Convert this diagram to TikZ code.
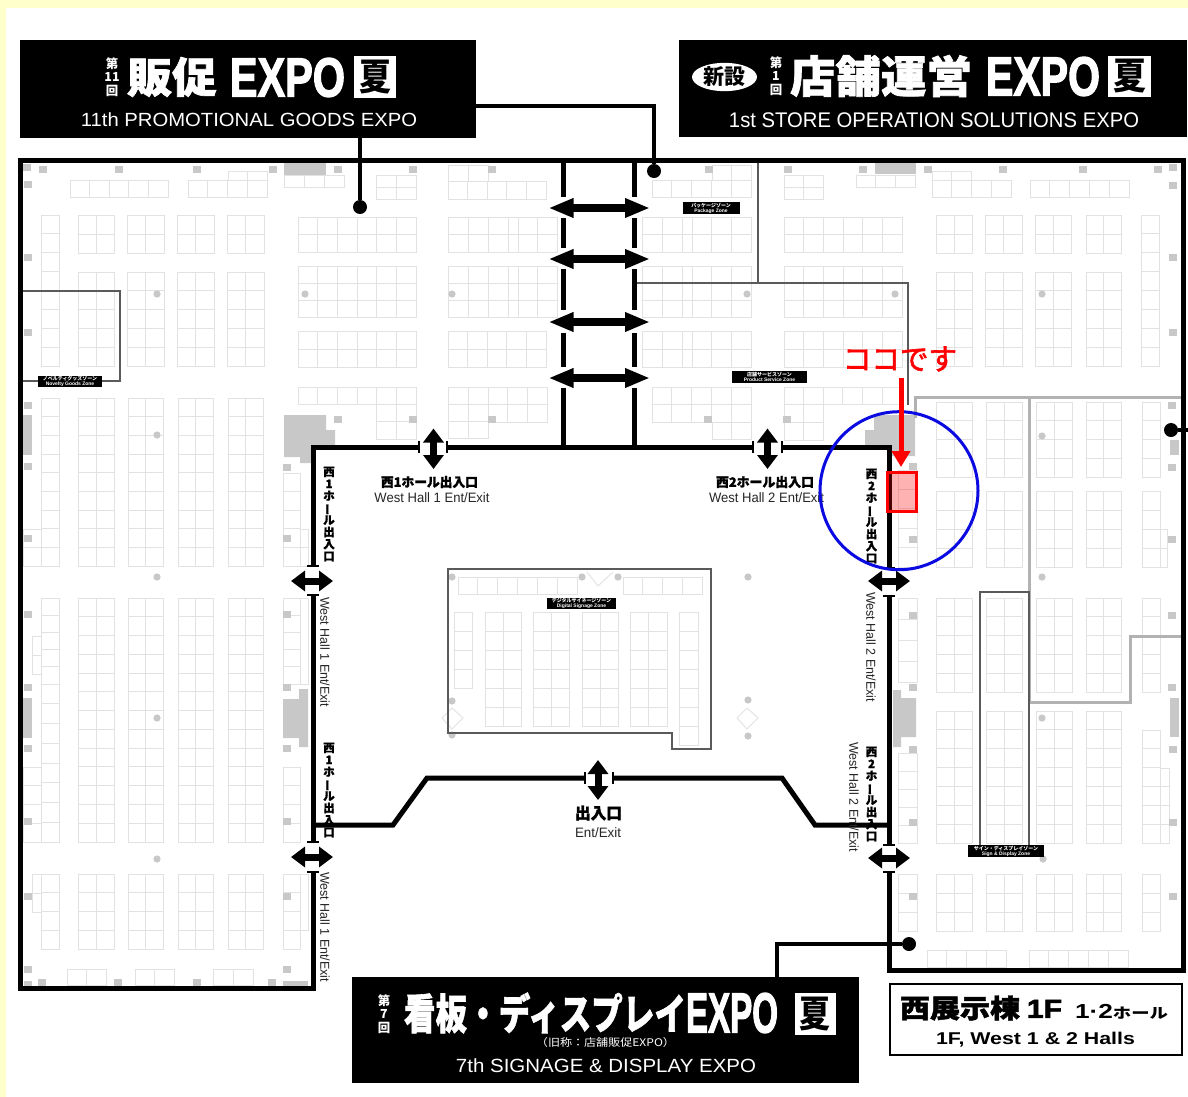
\documentclass[tikz,border=0pt]{standalone}
\usepackage{graphicx}
\usepackage{fontspec}
\setmainfont{Liberation Sans}
\newfontfamily\cjk{Noto Sans CJK JP}
\newfontfamily\cjkm[FakeBold=2]{Noto Sans CJK JP}
\newfontfamily\cjkh[BoldFeatures={FakeBold=1.5}]{Noto Sans CJK JP}
\newfontfamily\lsb[BoldFeatures={FakeBold=2.5}]{Liberation Sans}
\usetikzlibrary{arrows.meta,shapes.geometric,calc}
\definecolor{paleyellow}{RGB}{255,255,204}
\definecolor{boothline}{RGB}{226,226,226}
\definecolor{pillar}{RGB}{200,200,200}
\definecolor{zoneline}{RGB}{90,90,90}
\definecolor{partline}{RGB}{178,178,178}
\definecolor{bluering}{RGB}{10,10,225}
\tikzset{
 booth/.style={draw=boothline,line width=0.9bp},
 wall/.style={draw=black,line width=5bp,line cap=butt,line join=miter},
 leader/.style={draw=black,line width=4bp},
 zonewall/.style={draw=zoneline,line width=2bp},
 partwall/.style={draw=partline,line width=3bp},
 ticker/.style={draw=black,line width=2bp},
 bigarrow/.style={draw=black,line width=7.5bp,{Triangle[length=25bp,width=18bp]}-{Triangle[length=25bp,width=18bp]}},
 gatearrow/.style={draw=black,line width=7bp,{Triangle[length=14bp,width=20bp]}-{Triangle[length=14bp,width=20bp]}},
 txt/.style={inner sep=0,outer sep=0},
 dot/.style={circle,fill=black,inner sep=0,minimum size=14bp},
 zonelabel/.style={fill=black,text=white,inner sep=0,align=center,font=\bfseries\fontsize{5}{5.2}\selectfont},
 vlabel/.style={inner sep=0,align=center,font=\cjkh\bfseries\fontsize{11.5}{12.1}\selectfont},
 stack/.style={inner sep=0,align=center,text=white,font=\cjk\bfseries\fontsize{12.5}{13.6}\selectfont},
}
\newcommand\fit[3]{\resizebox*{#1bp}{#2bp}{#3}}
\newcommand\vbar{\raisebox{0pt}[8pt][0pt]{\rotatebox[origin=c]{90}{ー}}}
\newcommand\bg[6]{%
 \pgfmathsetmacro\gdx{(#3-#1)/#5}\pgfmathsetmacro\gdy{(#4-#2)/#6}%
 \draw[booth] (#1,#2) rectangle (#3,#4);%
 \foreach \i in {1,...,#5}{\draw[booth] ({#1+\i*\gdx},#2) -- ({#1+\i*\gdx},#4);}%
 \foreach \i in {1,...,#6}{\draw[booth] (#1,{#2+\i*\gdy}) -- (#3,{#2+\i*\gdy});}%
}
\newcommand\sq[2]{\fill[pillar] (#1,#2) rectangle ++(8,7);}
\newcommand\cir[2]{\fill[pillar] (#1,#2) circle (3.6);}
\begin{document}
\begin{tikzpicture}[x=1bp,y=-1bp]
\useasboundingbox (0,0) rectangle (1188,1097);
\fill[paleyellow] (0,0) rectangle (1188,1097);
\fill[white] (6,8) rectangle (1188,1097);

% --- booths, West hall 1 upper
\bg{70}{180}{168}{197}{5}{1}
\bg{188}{180}{267}{197}{4}{1}
\bg{228}{171}{267}{180}{2}{1}
\bg{284}{175}{344}{187}{3}{1}
\bg{376}{175}{416}{199}{2}{2}
\bg{448}{181}{546}{199}{5}{1}
\bg{448}{165}{488}{181}{2}{1}
\bg{41}{215}{59}{366}{1}{8}
\foreach \a/\b in {78/114,127/164,177/214,227/264}{
 \bg{\a}{215}{\b}{253}{2}{2}
 \bg{\a}{272}{\b}{366}{2}{5}
}
\bg{298}{217}{416}{252}{6}{2}
\bg{298}{266}{416}{317}{6}{3}
\bg{298}{331}{416}{367}{6}{2}
\bg{298}{387}{416}{404}{6}{1}
\bg{376}{404}{416}{439}{2}{2}
\bg{448}{217}{508}{252}{3}{2}
\bg{508}{217}{518}{252}{1}{2}
\bg{518}{217}{557}{252}{2}{2}
\bg{448}{266}{508}{317}{3}{3}
\bg{508}{266}{518}{317}{1}{3}
\bg{518}{266}{557}{317}{2}{3}
\bg{448}{331}{546}{367}{5}{2}
\bg{448}{387}{488}{438}{2}{3}
\bg{488}{387}{547}{422}{3}{2}
% West hall 1 lower
\bg{41}{398}{59}{566}{1}{9}
\bg{23}{529}{41}{566}{1}{2}
\foreach \a/\b in {78/114,128/163,178/213,228/263}{
 \bg{\a}{398}{\b}{566}{2}{9}
 \bg{\a}{598}{\b}{842}{2}{13}
 \bg{\a}{874}{\b}{949}{2}{4}
}
\bg{41}{598}{59}{684}{1}{5}
\bg{32}{636}{41}{674}{1}{2}
\bg{41}{684}{59}{842}{1}{8}
\bg{23}{767}{41}{842}{1}{4}
\bg{41}{874}{59}{949}{1}{4}
\bg{32}{874}{41}{912}{1}{2}
\bg{283}{473}{300}{566}{1}{5}
\bg{300}{529}{308}{566}{1}{2}
\bg{283}{598}{300}{684}{1}{5}
\bg{300}{598}{308}{684}{1}{1}
\bg{283}{767}{300}{842}{1}{4}
\bg{283}{874}{300}{949}{1}{4}
\bg{300}{874}{308}{930}{1}{1}
\bg{67}{969}{106}{985}{2}{1}
\bg{135}{969}{174}{985}{2}{1}
\bg{213}{969}{253}{985}{2}{1}
% West hall 2 upper
\bg{652}{180}{751}{197}{5}{1}
\bg{712}{165}{751}{180}{2}{1}
\foreach \a/\b/\c in {217/252/2,266/317/3}{
 \bg{642}{\a}{682}{\b}{2}{\c}
 \bg{682}{\a}{692}{\b}{1}{\c}
 \bg{692}{\a}{751}{\b}{3}{\c}
}
\bg{642}{331}{682}{367}{2}{2}
\bg{682}{331}{692}{367}{1}{2}
\bg{692}{331}{751}{367}{3}{2}
\bg{652}{387}{751}{422}{5}{2}
\bg{712}{422}{751}{439}{2}{1}
\bg{784}{217}{902}{252}{6}{2}
\bg{784}{266}{902}{317}{6}{3}
\bg{784}{331}{902}{367}{6}{2}
\bg{784}{387}{823}{440}{2}{3}
\bg{823}{387}{902}{404}{4}{1}
\bg{784}{175}{823}{199}{2}{2}
\bg{856}{175}{915}{187}{3}{1}
\bg{932}{180}{1011}{197}{4}{1}
\bg{932}{171}{971}{180}{2}{1}
\bg{1030}{180}{1129}{197}{5}{1}
\foreach \a/\b in {936/972,985/1022,1035/1071,1086/1121}{
 \bg{\a}{215}{\b}{253}{2}{2}
 \bg{\a}{272}{\b}{366}{2}{5}
}
\bg{1141}{215}{1159}{366}{1}{8}
% West hall 2 lower
\foreach \a/\b in {936/972,986/1022,1036/1072,1086/1121}{
 \bg{\a}{402}{\b}{477}{2}{4}
 \bg{\a}{491}{\b}{567}{2}{4}
 \bg{\a}{598}{\b}{692}{2}{5}
 \bg{\a}{711}{\b}{843}{2}{7}
 \bg{\a}{874}{\b}{931}{2}{3}
}
\bg{1142}{402}{1160}{477}{1}{4}
\bg{1142}{491}{1160}{567}{1}{4}
\bg{1160}{529}{1167}{567}{1}{2}
\bg{1142}{598}{1160}{692}{1}{5}
\bg{1142}{730}{1160}{843}{1}{6}
\bg{1160}{768}{1169}{843}{1}{4}
\bg{1142}{874}{1160}{931}{1}{3}
\bg{898}{470}{917}{567}{1}{5}
\bg{898}{598}{917}{682}{1}{4}
\bg{898}{753}{917}{843}{1}{5}
\bg{898}{874}{917}{931}{1}{3}
\bg{927}{950}{1006}{967}{4}{1}
\bg{1029}{950}{1128}{967}{5}{1}
% central room
\bg{458}{577}{577}{594}{6}{1}
\bg{623}{577}{702}{594}{4}{1}
\bg{454}{612}{472}{688}{1}{4}
\foreach \a/\b in {485/521,533/569,582/618,630/667}{\bg{\a}{612}{\b}{726}{2}{6}}
\bg{679}{612}{698}{745}{1}{7}
\draw[booth] (587,572) -- (598,586) -- (613,572);
\draw[booth] (452,708) -- (442,718) -- (452,729) -- (463,718) -- cycle;
\draw[booth] (747,708) -- (737,718) -- (747,729) -- (758,718) -- cycle;

% --- pillars and service areas
\fill[pillar] (284,163) rectangle (326,175);
\fill[pillar] (875,163) rectangle (916,174);
\fill[pillar] (284,415) -- (326,415) -- (326,430) -- (335,430) -- (335,447) -- (313,447) -- (313,463) -- (300,463) -- (300,457) -- (284,457) -- cycle;
\fill[pillar] (874,415) -- (915,415) -- (915,456) -- (889,456) -- (889,447) -- (865,447) -- (865,430) -- (874,430) -- cycle;
\fill[pillar] (299,689) -- (308,689) -- (308,747) -- (299,747) -- (299,738) -- (283,738) -- (283,699) -- (299,699) -- cycle;
\fill[pillar] (893,690) -- (901,690) -- (901,698) -- (916,698) -- (916,737) -- (901,737) -- (901,747) -- (893,747) -- cycle;
\fill[pillar] (23,415) rectangle (32,455);
\fill[pillar] (23,698) rectangle (32,738);
\fill[pillar] (1170,440) rectangle (1179,455);
\fill[pillar] (1170,698) rectangle (1179,737);
\fill[pillar] (283,981) rectangle (308,986);
\foreach \x in {39,115,193,269,334,409,488,705,784,859,924,999,1079,1154}{\sq{\x}{166}}
\foreach \x/\y in {23/164,24/181,24/254,24/329,24/402,24/463,24/535,24/611,24/684,24/745,24/818,24/893,24/966,24/981,
 38/979,114/979,193/979,268/979,
 283/464,283/535,283/611,283/684,283/745,283/818,283/893,283/966,
 334/416,409/416,488/416,704/416,783/416,
 1169/164,1169/182,1169/254,1169/329,1168/402,1168/464,1168/536,1168/612,1168/684,1169/746,1169/819,1169/893,
 909/463,909/536,909/612,909/684,909/746,909/819,909/893}{\sq{\x}{\y}}
\foreach \x/\y in {157/294,305/294,452/294,747/294,895/294,1042/294,
 157/435,157/577,157/718,157/859,
 452/577,582/577,618/577,452/701,452/735,748/577,748/700,748/736,
 1042/436,1042/577,1042/718,1043/859}{\cir{\x}{\y}}

% --- zone walls
\draw[zonewall] (20,291) -- (120,291) -- (120,381) -- (20,381);
\draw[zonewall] (757.5,160) -- (757.5,283);
\draw[zonewall] (635,283) -- (907.5,283) -- (907.5,405);
\draw[zonewall] (448,569) -- (711,569) -- (711,749) -- (672,749) -- (672,733) -- (448,733) -- cycle;
\draw[partwall] (915,418) -- (915,397) -- (1181,397);
\draw[partwall] (1029,397) -- (1029,702) -- (1130,702) -- (1130,636) -- (1181,636);
\draw[zonewall] (980,846) -- (980,592) -- (1029,592) -- (1029,846);

% --- main walls
\draw[wall] (313,566) -- (313,447) -- (419,447);
\draw[wall] (447,447) -- (753,447);
\draw[wall] (782,447) -- (889,447) -- (889,568);
\draw[wall] (889,596) -- (889,845);
\draw[wall] (889,872) -- (889,970) -- (1183,970) -- (1183,160) -- (20,160) -- (20,988) -- (313,988) -- (313,872);
\draw[wall] (313,842) -- (313,595);
\foreach \x in {563,634}{
 \foreach \a/\b in {160/197,218/248,269/310,333/367,388/447}{\draw[wall] (\x,\a) -- (\x,\b);}
}
\draw[wall] (313,825) -- (393,825) -- (427,778) -- (585,778);
\draw[wall] (613,778) -- (782,778) -- (815,825) -- (889,825);
% gate end ticks
\foreach \x in {419,447,753,782,585,613}{
 \pgfmathsetmacro\yy{(\x==585||\x==613)?778:447}
 \draw[ticker] (\x,\yy-6) -- (\x,\yy+6);
}
\foreach \y in {566,595,842,872}{\draw[ticker] (307,\y) -- (319,\y);}
\foreach \y in {568,596,845,872}{\draw[ticker] (883,\y) -- (895,\y);}

% --- gate and corridor arrows
\foreach \y in {208,259,322,378}{\draw[bigarrow] (548.5,\y) -- (650,\y);}
\draw[gatearrow] (433.5,428.5) -- (433.5,469);
\draw[gatearrow] (767.5,428.5) -- (767.5,469);
\draw[gatearrow] (598,760) -- (598,800);
\draw[gatearrow] (291,581) -- (333,581);
\draw[gatearrow] (291,857) -- (333,857);
\draw[gatearrow] (868,581) -- (910,581);
\draw[gatearrow] (868,858) -- (910,858);

% --- header boxes
\node[fill=black,inner sep=0,minimum width=456bp,minimum height=98bp] (bxa) at (248,89) {};
\node[fill=black,inner sep=0,minimum width=508bp,minimum height=97bp] (bxb) at (933,88.5) {};
\node[fill=black,inner sep=0,minimum width=507bp,minimum height=106bp] (bxc) at (605.5,1030) {};
\node[draw=black,fill=white,line width=2bp,inner sep=0,minimum width=292bp,minimum height=71bp] (bxd) at (1036,1019.5) {};

% --- leaders
\node[dot] (da) at (360,207) {};
\node[dot] (db) at (654,171) {};
\node[dot] (dd) at (1171,430) {};
\node[dot] (dc) at (909,944) {};
\coordinate (cb) at (654,106);
\coordinate (cc) at (777,944);
\coordinate (ce) at (1188,430);
\draw[leader] (da |- bxa.south) -- (da);
\draw[leader] (bxa.east |- cb) -- (cb) -- (db);
\draw[leader] (cc |- bxc.north) -- (cc) -- (dc);
\draw[leader] (dd) -- (ce);

% --- header a
\node[stack] (aa) at (112,77) {第\\11\\回};
\node[txt,text=white] (ab) at (172,77) {\fit{90}{40}{\cjkh\bfseries 販促}};
\node[txt,text=white] (ac) at (287.5,77.5) {\fit{115}{39}{\lsb\bfseries EXPO}};
\node[fill=white,inner sep=0,minimum width=42bp,minimum height=42bp] (ad) at (375,77) {\fit{32}{34}{\cjk\bfseries 夏}};
\node[txt,text=white] (ae) at (249,120) {\fit{336}{14}{11th PROMOTIONAL GOODS EXPO}};
% --- header b
\node[ellipse,fill=white,inner sep=0,minimum width=65bp,minimum height=28bp] (ba) at (724.5,77) {\fit{42}{20}{\cjk\bfseries 新設}};
\node[stack] (bb) at (776,76) {第\\1\\回};
\node[txt,text=white] (bc) at (881,76) {\fit{182}{42}{\cjkh\bfseries 店舗運営}};
\node[txt,text=white] (bd) at (1043,76.5) {\fit{114}{39}{\lsb\bfseries EXPO}};
\node[fill=white,inner sep=0,minimum width=43bp,minimum height=41bp] (be) at (1129.5,76.5) {\fit{33}{34}{\cjk\bfseries 夏}};
\node[txt,text=white] (bf) at (934,120.5) {\fit{410}{15}{1st STORE OPERATION SOLUTIONS EXPO}};
% --- header c
\node[stack] (ca) at (384,1014) {第\\7\\回};
\node[txt,text=white] (cb2) at (545,1013) {\fit{282}{41}{\cjkh\bfseries 看板・ディスプレイ}};
\node[txt,text=white] (cc2) at (732,1013) {\fit{92}{40}{\lsb\bfseries EXPO}};
\node[fill=white,inner sep=0,minimum width=41bp,minimum height=42bp] (cd) at (815,1014) {\fit{31}{34}{\cjk\bfseries 夏}};
\node[txt,text=white] (ce2) at (605.5,1042.5) {\fit{139}{10}{\cjk （旧称：店舗販促EXPO）}};
\node[txt,text=white] (cf) at (606,1065.5) {\fit{300}{14}{7th SIGNAGE \& DISPLAY EXPO}};
% --- hall caption
\node[txt] (da1) at (981,1008) {\fit{162}{25}{\cjkh\bfseries 西展示棟 \lsb\bfseries 1F}};
\node[txt] (da2) at (1121.5,1012) {\fit{93}{15}{\bfseries 1·2\cjk\bfseries\fontsize{7}{8}\selectfont ホール}};
\node[txt] (da3) at (1035.5,1040) {\fit{199}{15}{\bfseries 1F, West 1 \& 2 Halls}};

% --- hall labels
\node[txt] (la) at (429.5,482) {\fit{97}{12}{\cjkh\bfseries 西1ホール出入口}};
\node[txt,text=black!85] (lb) at (432,498) {\fit{115}{10}{West Hall 1 Ent/Exit}};
\node[txt] (lc) at (765,482) {\fit{98}{12}{\cjkh\bfseries 西2ホール出入口}};
\node[txt,text=black!85] (ld) at (766.5,498) {\fit{115}{10}{West Hall 2 Ent/Exit}};
\node[txt] (le) at (598.5,813) {\fit{47}{15}{\cjkh\bfseries 出入口}};
\node[txt,text=black!85] (lf) at (598,833) {\fit{46}{10}{Ent/Exit}};
\node[vlabel] (va) at (329,514) {西\\1\\ホ\\\vbar\\ル\\出\\入\\口};
\node[vlabel] (vb) at (329,790) {西\\1\\ホ\\\vbar\\ル\\出\\入\\口};
\node[vlabel] (vc) at (871.5,516) {西\\2\\ホ\\\vbar\\ル\\出\\入\\口};
\node[vlabel] (vd) at (871.5,794) {西\\2\\ホ\\\vbar\\ル\\出\\入\\口};
\node[txt,rotate=-90,text=black!85] (ra) at (325,652) {\fit{110}{9.5}{West Hall 1 Ent/Exit}};
\node[txt,rotate=-90,text=black!85] (rb) at (325,927) {\fit{110}{9.5}{West Hall 1 Ent/Exit}};
\node[txt,rotate=-90,text=black!85] (rc) at (871,647) {\fit{110}{9.5}{West Hall 2 Ent/Exit}};
\node[txt,rotate=-90,text=black!85] (rd) at (854,797) {\fit{110}{9.5}{West Hall 2 Ent/Exit}};

% --- zone tags
\node[zonelabel,minimum width=64bp,minimum height=11bp] (za) at (70,381.5) {\cjk ノベルティグッズゾーン\\Novelty Goods Zone};
\node[zonelabel,minimum width=57bp,minimum height=12bp] (zb) at (711,208) {\cjk パッケージゾーン\\Package Zone};
\node[zonelabel,minimum width=75bp,minimum height=12bp] (zc) at (769.5,377) {\cjk 店舗サービスゾーン\\Product Service Zone};
\node[zonelabel,minimum width=69bp,minimum height=11bp] (zd) at (581.5,603.5) {\cjk デジタルサイネージゾーン\\Digital Signage Zone};
\node[zonelabel,minimum width=76bp,minimum height=12bp] (ze) at (1006,851) {\cjk サイン・ディスプレイゾーン\\Sign \& Display Zone};

% --- highlight
\draw[bluering,line width=3bp] (899,490.7) circle (79);
\draw[red,line width=3bp,fill=red,fill opacity=.3] (887.5,472) rectangle (916.5,511);
\node[txt,text=red] (here) at (900,359) {\fit{114}{25}{\cjkm ココです}};
\coordinate (ha) at (901,378);
\coordinate (hb) at (901,467);
\draw[draw=red,line width=5bp,-{Triangle[length=16bp,width=18bp]}] (ha) -- (hb);
\end{tikzpicture}
\end{document}
